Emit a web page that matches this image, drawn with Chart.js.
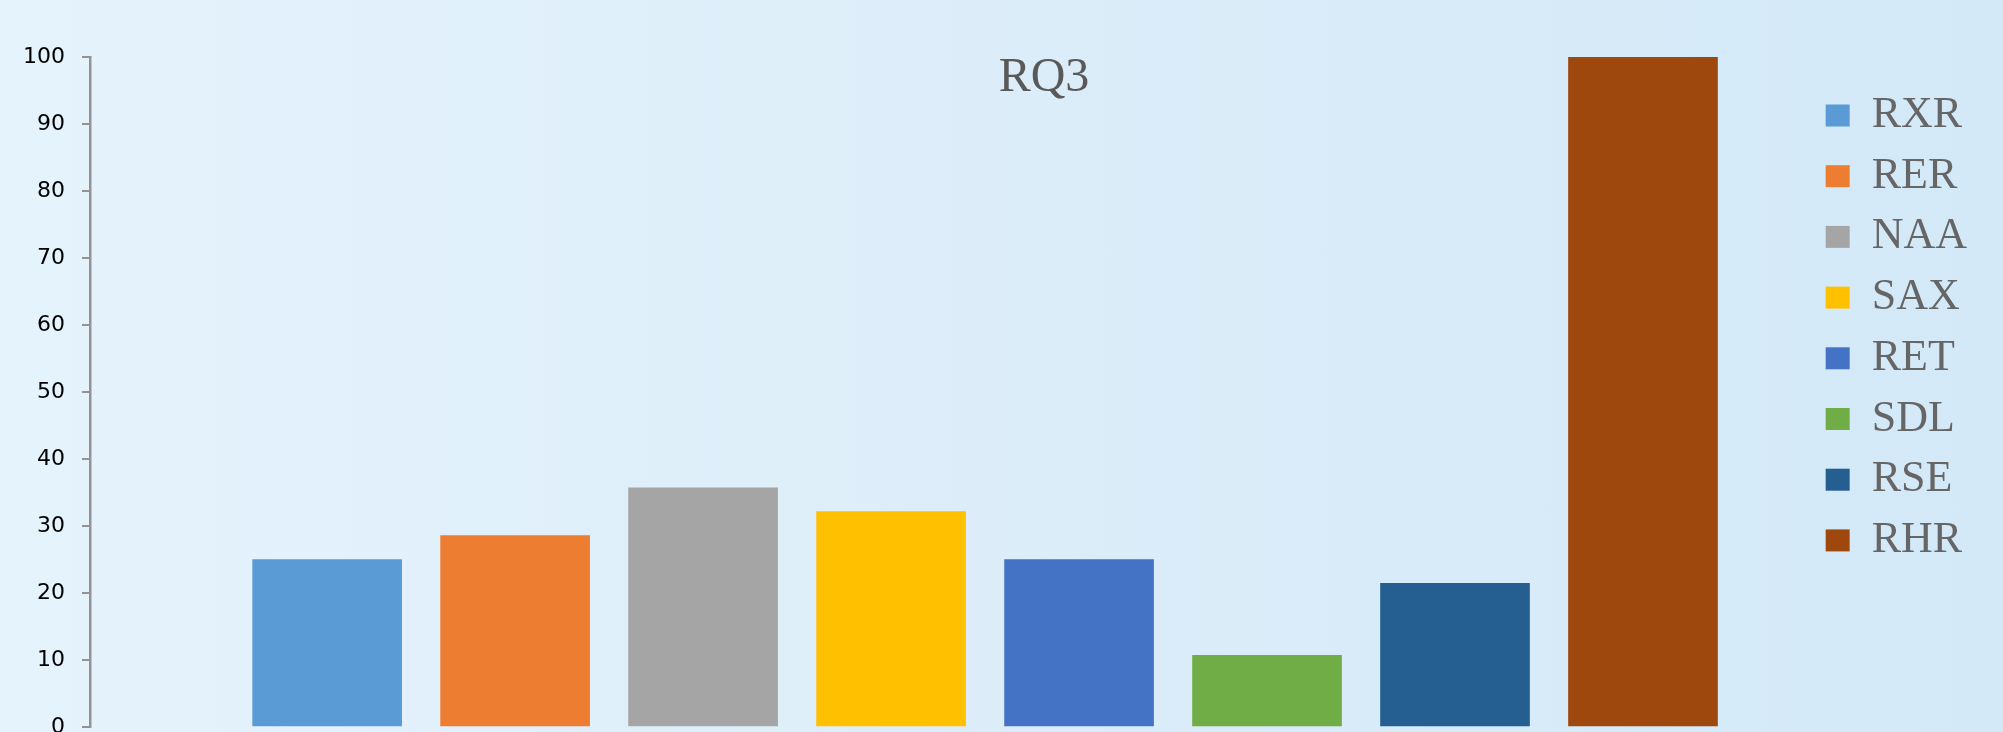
<!DOCTYPE html>
<html>
<head>
<meta charset="utf-8">
<script src="https://cdn.jsdelivr.net/npm/chart.js@4/dist/chart.umd.min.js"></script>
<style>
  html, body { margin: 0; padding: 0; }
  body {
    width: 2003px; height: 732px; overflow: hidden;
    background: linear-gradient(90deg, #e5f3fc 0%, #dcedf9 50%, #d3e9f8 100%);
  }
  #wrap { position: relative; width: 2003px; height: 732px; }
</style>
</head>
<body>
<div id="wrap"><canvas id="chart1"></canvas></div>
<script>
var chartTitle = 'RQ3';
var categories = ['RXR', 'RER', 'NAA', 'SAX', 'RET', 'SDL', 'RSE', 'RHR'];
var values = [25, 28.57, 35.71, 32.14, 25, 10.71, 21.43, 100];
var positions = [1, 2, 3, 4, 5, 6, 7, 8];
var colors = ['#5B9BD5', '#ED7D31', '#A5A5A5', '#FFC000', '#4472C4', '#70AD47', '#255E91', '#9E480E'];
var yTicks = [0, 10, 20, 30, 40, 50, 60, 70, 80, 90, 100];

var points = positions.map(function(x, i) { return { x: x, y: values[i] }; });

// title sits inside the plot like the office chart does
var titlePlugin = {
  id: 'innerTitle',
  afterDraw: function(chart) {
    var ctx = chart.ctx;
    ctx.save();
    ctx.font = '48px "Liberation Serif"';
    ctx.fillStyle = '#595959';
    ctx.textAlign = 'center';
    ctx.textBaseline = 'alphabetic';
    ctx.fillText(chartTitle, 1044, 91);
    ctx.restore();
  }
};

var ctx = document.getElementById('chart1').getContext('2d');
var myChart = new Chart(ctx, {
  type: 'bar',
  data: {
    datasets: [{
      label: chartTitle,
      data: points,
      backgroundColor: colors,
      borderWidth: 0,
      barThickness: 149
    }]
  },
  options: {
    responsive: true,
    maintainAspectRatio: false,
    animation: false,
    layout: { padding: { left: 25, top: 57, bottom: 5, right: 26 } },
    plugins: {
      title: { display: false },
      tooltip: { enabled: false },
      legend: {
        position: 'right',
        align: 'start',
        // empty title just pushes the entries down a bit
        title: { display: true, text: '', padding: 0, font: { size: 19.8, lineHeight: 1 } },
        labels: {
          font: { family: '"Liberation Serif"', size: 44 },
          color: '#595959',
          boxWidth: 24,
          boxHeight: 22,
          padding: 16.7,
          generateLabels: function(chart) {
            return categories.map(function(c, i) {
              return { text: c, fillStyle: colors[i], strokeStyle: colors[i], lineWidth: 0, hidden: false, index: i };
            });
          }
        }
      }
    },
    scales: {
      x: {
        type: 'linear',
        offset: false,
        min: -0.2615,
        max: 8.883,
        display: false,
        grid: { display: false }
      },
      y: {
        min: 0,
        max: 100,
        afterBuildTicks: function(axis) {
          axis.ticks = yTicks.map(function(v) { return { value: v }; });
        },
        afterFit: function(axis) {
          axis.width = 65;
          axis.paddingTop = 0;
          axis.paddingBottom = 0;
        },
        grid: { drawOnChartArea: false, drawTicks: true, tickLength: 8, color: '#939393', lineWidth: 2 },
        border: { display: true, color: '#939393', width: 2.5 },
        ticks: {
          padding: 17,
          color: '#000000',
          font: { family: '"DejaVu Sans"', size: 22 }
        }
      }
    }
  },
  plugins: [titlePlugin]
});
</script>
</body>
</html>
